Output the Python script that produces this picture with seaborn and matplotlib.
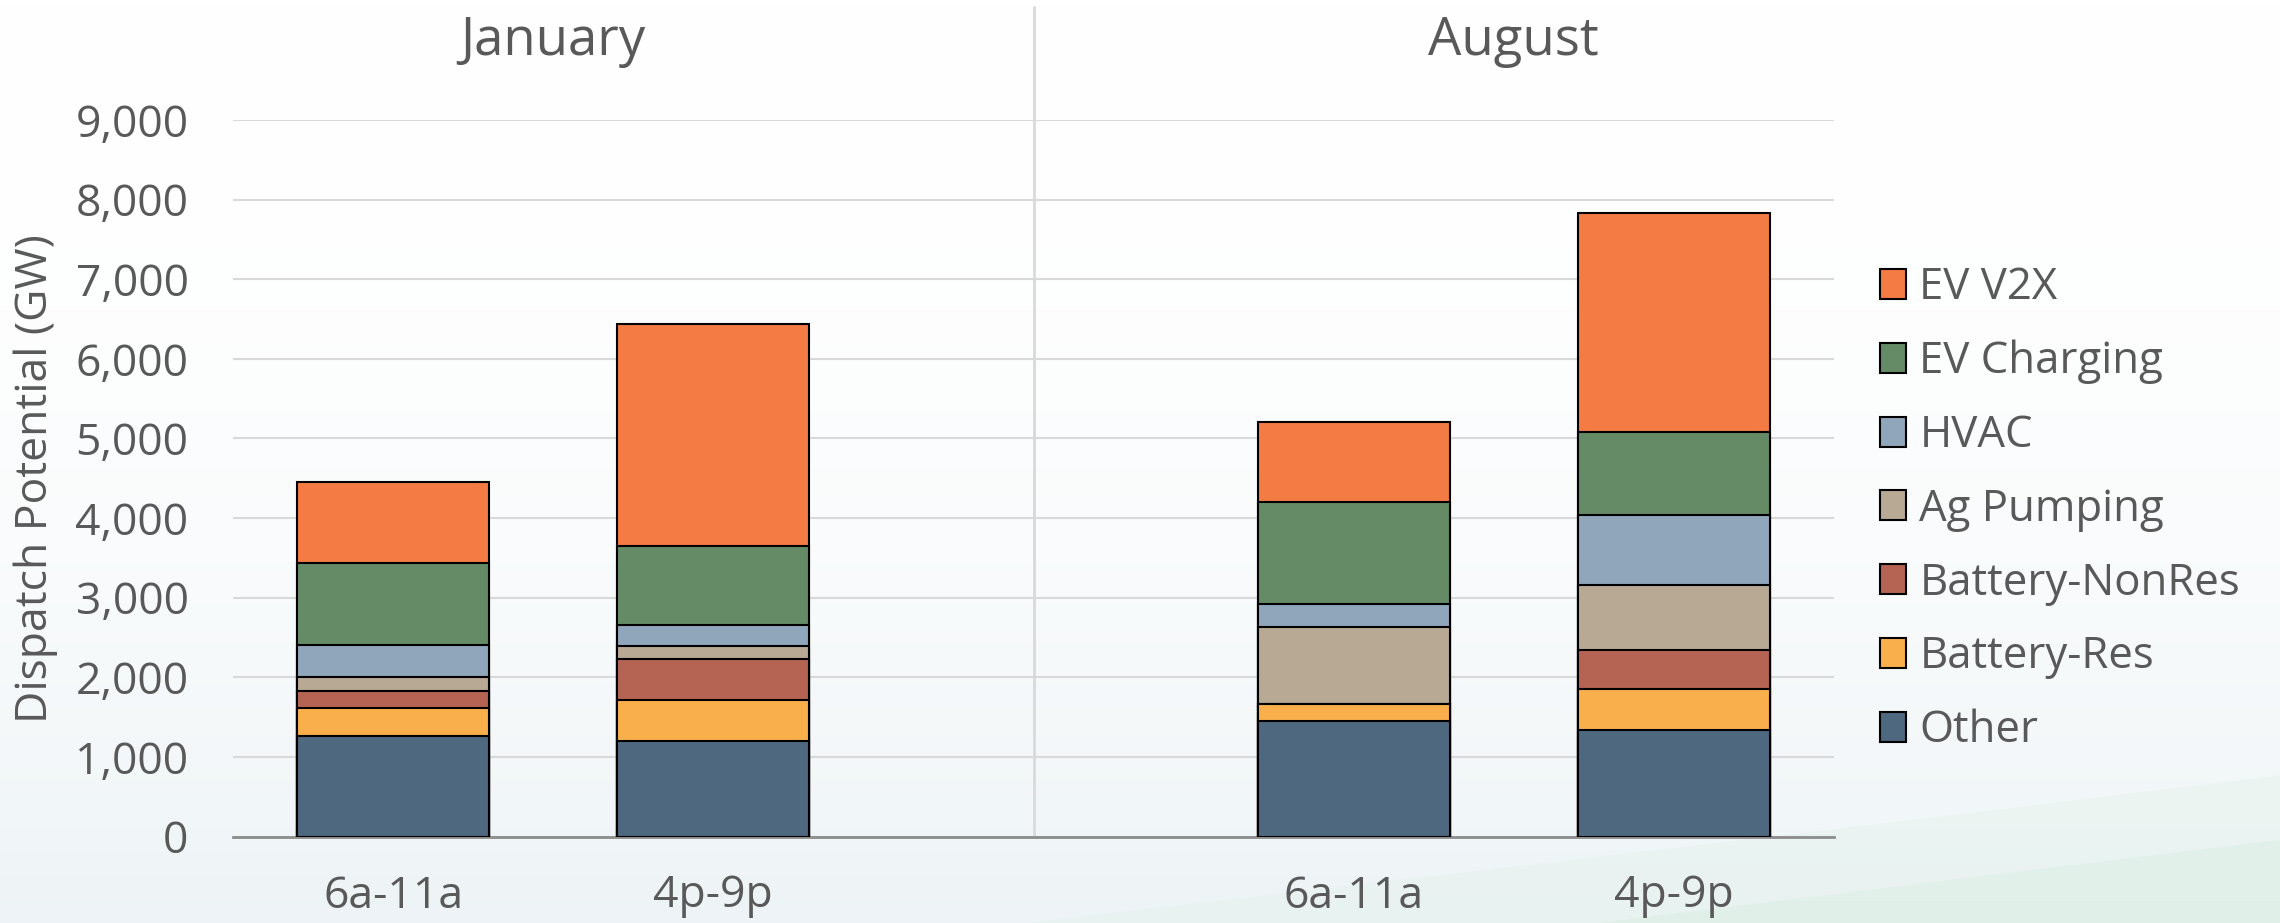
import numpy as np
import pandas as pd
import matplotlib
matplotlib.use("Agg")
import matplotlib.pyplot as plt
import seaborn as sns
from matplotlib.patches import Patch, Polygon
from matplotlib.ticker import StrMethodFormatter

# -------- data (GW) --------
slots = ["Jan 6a-11a", "Jan 4p-9p", "Aug 6a-11a", "Aug 4p-9p"]
slot_order = ["Jan 6a-11a", "Jan 4p-9p", "gap", "Aug 6a-11a", "Aug 4p-9p"]
tick_labels = ["6a-11a", "4p-9p", "", "6a-11a", "4p-9p"]
months = ["January", "August"]

components = ["Other", "Battery-Res", "Battery-NonRes", "Ag Pumping", "HVAC", "EV Charging", "EV V2X"]
other = [1260, 1200, 1450, 1340]
battery_res = [350, 512, 215, 510]
battery_nonres = [215, 518, 0, 487]
ag_pumping = [180, 167, 965, 819]
hvac = [405, 263, 290, 880]
ev_charging = [1020, 990, 1280, 1048]
ev_v2x = [1025, 2790, 1007, 2752]

colors = ["#4E6880", "#F9B04C", "#B56353", "#B8A995", "#90A6BB", "#648B65", "#F47B44"]
TEXT = "#595959"

# stacked via overlapping cumulative bars
layers = [other, battery_res, battery_nonres, ag_pumping, hvac, ev_charging, ev_v2x]
cum = np.cumsum(np.array(layers), axis=0)
rows = []
for comp, vals in zip(components, cum):
    for slot, v in zip(slots, vals):
        rows.append({"slot": slot, "component": comp, "cum": v})
df = pd.DataFrame(rows)

sns.set_theme(style="white")
plt.rcParams["font.family"] = ["Open Sans", "DejaVu Sans"]

fig = plt.figure(figsize=(22.8, 9.23), dpi=100)

# soft background
bg = fig.add_axes([0, 0, 1, 1], zorder=-10)
grad = np.linspace(0, 1, 256)[:, None] ** 2.2
base = np.array([1.0, 1.0, 1.0])
low = np.array([0.93, 0.955, 0.965])
img = base[None, None, :] * (1 - grad[..., None]) + low[None, None, :] * grad[..., None]
img = np.repeat(img, 4, axis=1)
bg.imshow(img, extent=[0, 1, 0, 1], aspect="auto", origin="upper")
bg.add_patch(Polygon([[0.45, 0], [0.8, 0.1], [1.0, 0.16], [1.0, 0]], closed=True,
                     facecolor="#e2f1e8", alpha=0.4, lw=0))
bg.add_patch(Polygon([[0.7, 0], [1.0, 0.09], [1.0, 0]], closed=True,
                     facecolor="#d8eee1", alpha=0.45, lw=0))
bg.set_xlim(0, 1)
bg.set_ylim(0, 1)
bg.axis("off")

ax = fig.add_axes([233 / 2280, 1 - 836.5 / 923, 1601 / 2280, 716.5 / 923])
ax.set_facecolor("none")

sns.barplot(data=df, x="slot", y="cum", hue="component", hue_order=components[::-1],
            order=slot_order, palette=colors[::-1], saturation=1, dodge=False, width=0.6,
            edgecolor="black", linewidth=1.5, legend=False, ax=ax, zorder=3)

ax.set_xlim(-0.5, 4.5)
ax.set_ylim(0, 9000)
ax.set_yticks(range(0, 9001, 1000))
ax.yaxis.set_major_formatter(StrMethodFormatter("{x:,.0f}"))
ax.set_xticks(range(len(slot_order)))
ax.set_xticklabels(tick_labels)
ax.grid(axis="y", color="#D9D9D9", lw=1.5, zorder=0)
ax.set_axisbelow(True)
for s in ["top", "right", "left"]:
    ax.spines[s].set_visible(False)
ax.spines["bottom"].set_color("#8c8c8c")
ax.spines["bottom"].set_linewidth(2)
ax.tick_params(axis="both", length=0, labelsize=32, colors=TEXT, pad=32)
ax.tick_params(axis="x", pad=27)

ax.set_xlabel("")
ax.set_ylabel("Dispatch Potential (GW)", fontsize=32, color=TEXT)
ax.yaxis.set_label_coords(-0.109, 0.5)

# month divider and headers
ax.axvline(2, ymin=0, ymax=(836.5 - 7) / 716.5, color="#D9D9D9", lw=2, clip_on=False, zorder=1)
ax.text(0.5, 1.11, months[0], ha="center", va="center", fontsize=38, color=TEXT,
        transform=ax.get_xaxis_transform())
ax.text(3.5, 1.11, months[1], ha="center", va="center", fontsize=38, color=TEXT,
        transform=ax.get_xaxis_transform())

handles = [Patch(facecolor=c, edgecolor="black", lw=1.5, label=n)
           for n, c in zip(components[::-1], colors[::-1])]
fig.legend(handles=handles, loc="center left", bbox_to_anchor=(1880 / 2280, 1 - 509.5 / 923),
           frameon=False, fontsize=31.5, labelcolor=TEXT, handlelength=0.6, handleheight=0.68,
           handletextpad=0.3, labelspacing=0.67, borderpad=0, borderaxespad=0)

fig.savefig("out.png", dpi=100)
